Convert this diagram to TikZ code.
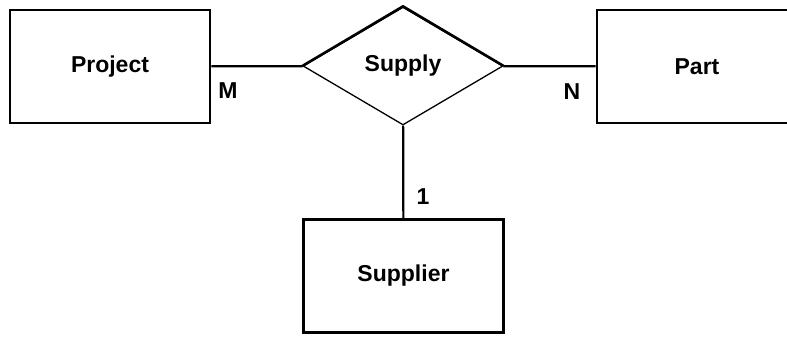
\documentclass[tikz,border=0pt]{standalone}
\usepackage{fontspec}
\setmainfont{Liberation Sans}
\usetikzlibrary{shapes.geometric, positioning}
\tikzset{
    entity/.style = {draw, line width=2.8pt, minimum width=200pt, minimum height=113pt, inner sep=0pt, font=\fontsize{23}{25}\selectfont\bfseries},
    relation/.style = {draw, diamond, line width=1.3pt, minimum width=200pt, minimum height=118pt, inner sep=0pt, font=\fontsize{23}{25}\selectfont\bfseries},
    card/.style = {inner sep=0pt, font=\fontsize{23}{25}\selectfont\bfseries},
    link/.style = {draw, line width=2.2pt},
}

\begin{document}
\begin{tikzpicture}[x=1pt, y=-1pt]
            \clip (0, 0) rectangle (787, 337);
            \fill[white] (0, 0) rectangle (787, 337);

            \node[entity] (project) at (110, 66.5) {Project};
            \node[relation] (supply) at (403, 66) {Supply};
            \node[entity] (part) at (697, 66.5) {Part};
            \node[entity] (supplier) at (403.5, 276) {Supplier};

            \draw[line width=2.6pt, line join=round] (supply.west) -- (supply.north) -- (supply.east);

            \node[card] (m) at (228, 91) {M};
            \node[card] (n) at (572, 92) {N};
            \node[card] (one) at (423, 197) {1};

            \draw[link] (project) -- (supply);
            \draw[link] (supply) -- (part);
            \draw[link] (supply) -- (supplier);
        \end{tikzpicture}
\end{document}
